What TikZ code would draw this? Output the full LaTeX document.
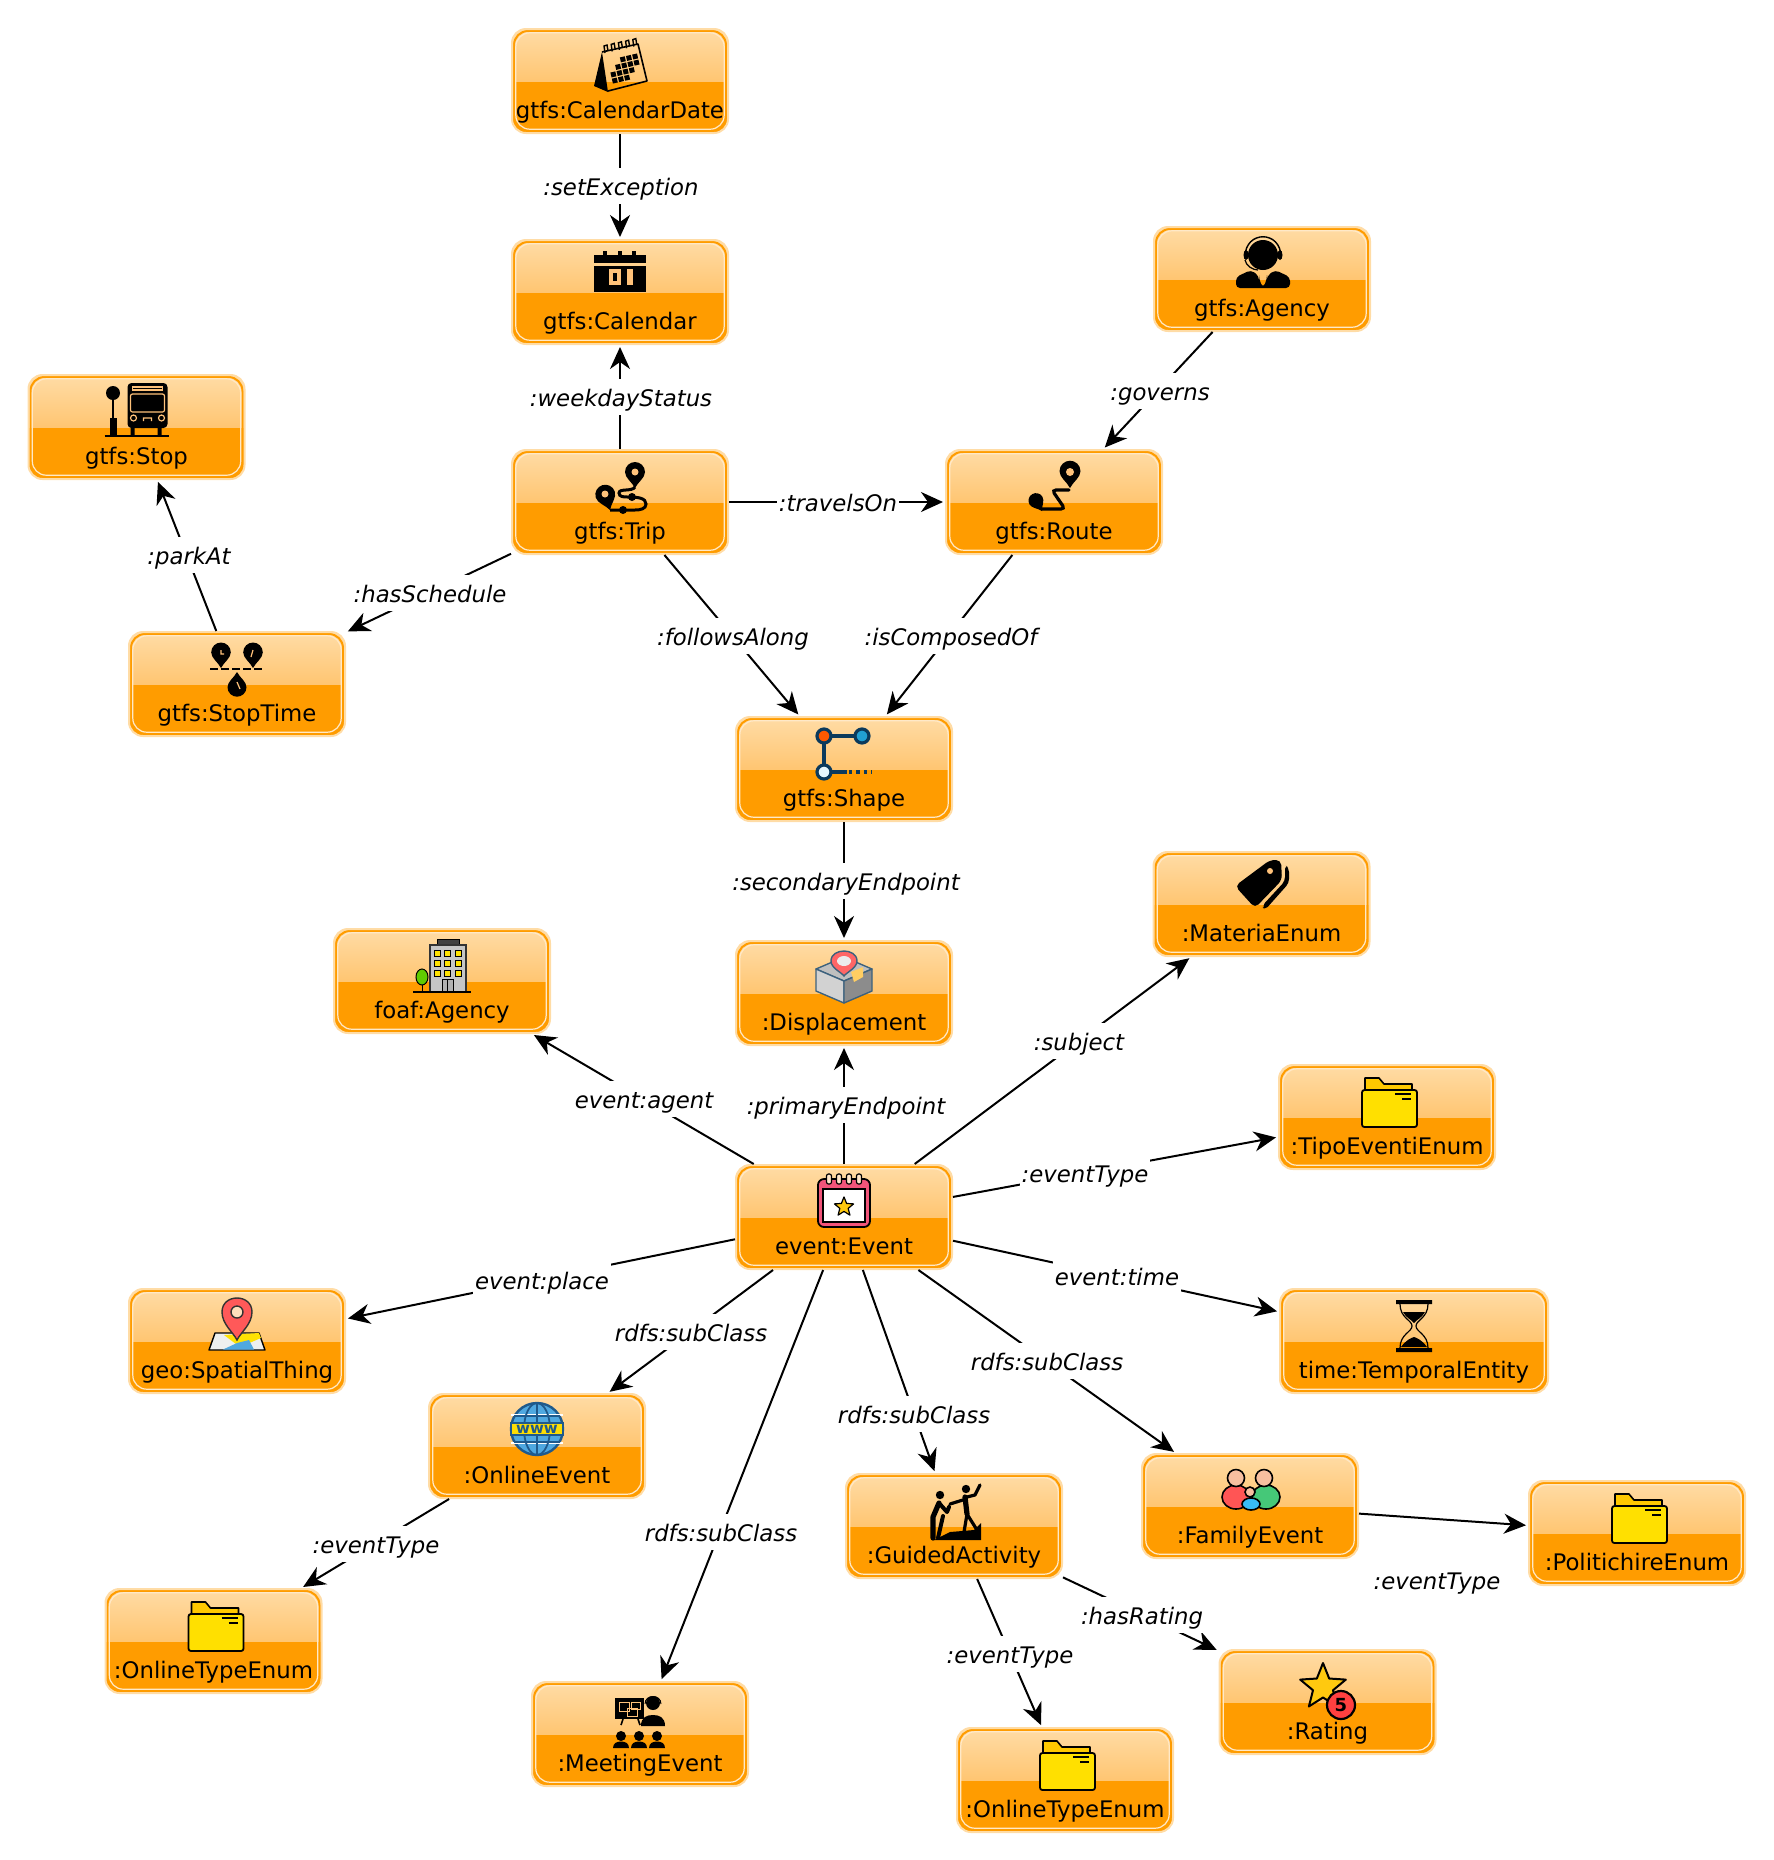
\documentclass[tikz,border=0pt]{standalone}
\usepackage{fontspec}
\setmainfont{DejaVu Sans}
\usetikzlibrary{arrows.meta}

\definecolor{boxorange}{HTML}{FF9C00}
\definecolor{boxlight}{HTML}{FFDCA6}
\definecolor{boxglow}{HTML}{FFAF3E}
\definecolor{boxcream}{HTML}{FFE9C8}
\definecolor{iconhole}{HTML}{FFC27A}
\definecolor{navyline}{HTML}{0B3A5C}
\definecolor{folderfront}{HTML}{FFE000}
\definecolor{folderback}{HTML}{FFC800}
\definecolor{eventpink}{HTML}{F2557A}
\definecolor{starfill}{HTML}{FFC90F}
\definecolor{globeblue}{HTML}{4FA8E0}
\definecolor{globeline}{HTML}{1F5A8C}
\definecolor{familyred}{HTML}{FF5555}
\definecolor{familygreen}{HTML}{45C878}
\definecolor{familyblue}{HTML}{38BDF8}
\definecolor{familyskin}{HTML}{F7BFA0}

\tikzset{
    classbox/.style={rectangle, draw=boxlight, line width=1pt, fill=boxorange, rounded corners=7pt,
        minimum width=108pt, inner xsep=0pt, inner ysep=0pt, text height=44.5pt, text depth=7.5pt,
        font=\fontsize{11.4}{13}\selectfont,
        path picture={
            \fill[top color=boxlight, bottom color=boxglow, sharp corners] (path picture bounding box.north west) rectangle (path picture bounding box.east);
            \draw[boxorange, line width=1pt] ([shift={(1pt,1pt)}]path picture bounding box.south west) rectangle ([shift={(-1pt,-1pt)}]path picture bounding box.north east);
            \draw[boxcream, line width=.6pt] ([shift={(1.9pt,1.9pt)}]path picture bounding box.south west) rectangle ([shift={(-1.9pt,-1.9pt)}]path picture bounding box.north east);
        }},
    edgelabel/.style={fill=white, inner xsep=1pt, inner ysep=2.5pt, text height=11pt, text depth=2pt, font=\fontsize{11.4}{13}\selectfont\itshape},
    link/.style={draw, line width=1pt, -{Stealth[length=11pt,width=10pt,inset=3.5pt]}, shorten >=1pt},
    % Shapes used by several icons
    pinShape/.pic={
        \fill (0,0) .. controls (-3,-6) and (-10,-10) .. (-10,-16) .. controls (-10,-22) and (-5,-26) .. (0,-26)
            .. controls (5,-26) and (10,-22) .. (10,-16) .. controls (10,-10) and (3,-6) .. (0,0) -- cycle;
    },
    starShape/.pic={
        \draw[fill=starfill, line join=round] (0,-24)
            \foreach \k in {1,...,9} {
                -- ({ifthenelse(mod(\k,2)==0,24,10.5)*sin(36*\k)},{-ifthenelse(mod(\k,2)==0,24,10.5)*cos(36*\k)})
            } -- cycle;
    },
    folderIcon/.pic={
        \draw[fill=folderback, line width=.8pt, line join=round] (-24,-12) -- (-24,-24) -- (-10,-24) -- (-5,-18) -- (23,-18) -- (23,-10) -- cycle;
        \draw[fill=folderfront, line width=.9pt, rounded corners=1.2pt] (-27,-12) rectangle (28,25);
        \draw[line width=.8pt] (6,-8) -- (22,-8) (13,-3) -- (22,-3);
    },
    % Icons, one for each class
    calendarDateIcon/.pic={
        \fill (-18,-14) -- (-26,20) -- (-12,26) -- cycle;
        \draw[line width=.8pt, line join=round] (-18,-14) -- (18,-22) -- (27,15) -- (-12,25);
        \foreach \c in {0,...,4} {
            \draw[line width=.7pt] ({-15+7.2*\c},{-13-1.6*\c}) -- ({-16+7.2*\c},{-20-1.6*\c}) -- ({-13+7.2*\c},{-21-1.6*\c}) -- ({-12+7.2*\c},{-15-1.6*\c});
        }
        \begin{scope}[shift={(3,2)}, rotate=13]
            \foreach \c/\r in {1/0,2/0,3/0,0/1,1/1,2/1,3/1,-1/2,0/2,1/2,2/2,-1/3,0/3,1/3} {
                \fill ({-7+6.3*\c},{-11+6.3*\r}) rectangle +(5,5);
            }
        \end{scope}
    },
    calendarIcon/.pic={
        \fill (-26,-17) rectangle (26,-9);
        \foreach \c in {-15,0,14} {
            \fill (\c-2,-21) rectangle (\c+2,-16);
        }
        \fill (-26,-6) rectangle (26,20);
        \fill[iconhole] (-11,-3) rectangle (1,13);
        \fill (-7,1) rectangle (-3,9);
        \fill[iconhole] (7,-3) rectangle (13,13);
    },
    agencyIcon/.pic={
        \fill (0,-8) ellipse (15 and 15);
        \fill (-17,-8) ellipse (2.5 and 5) (17,-8) ellipse (2.5 and 5);
        \draw[line width=.7pt] (-18,-6) .. controls (-18,-33) and (18,-33) .. (18,-6);
        \draw[line width=.6pt] (-18,-3) .. controls (-17,3) and (-10,7) .. (-5,7);
        \fill[rounded corners=2pt] (-27,25) -- (-27,14) -- (-12,7) -- (-4,13) -- (-4,16) -- (0,25) -- (4,16) -- (4,13) -- (12,7) -- (27,14) -- (27,25) -- cycle;
    },
    stopIcon/.pic={
        \fill (-23.5,-17) circle (7);
        \draw[line width=1pt] (-23.5,-12) -- (-23.5,20);
        \fill (-27,8) rectangle (-20,26);
        \draw[line width=1pt] (-32,26) -- (32,26);
        \fill[rounded corners=2pt] (-9,-27) rectangle (31,18);
        \fill (-6,16) rectangle (-2,26) (21,16) rectangle (25,26);
        \draw[iconhole, line width=.6pt] (-4,-23) rectangle (26,-20);
        \draw[iconhole, line width=.6pt, rounded corners=1pt] (-6,-16) rectangle (28,2);
        \draw[iconhole, line width=.6pt] (-3,8) circle (3) (25,8) circle (3) (7,11) -- (7,8) -- (15,8) -- (15,11);
    },
    tripIcon/.pic={
        \pic at (15,0) {pinShape};
        \pic[rotate=17] at (-10,22) {pinShape};
        \fill[iconhole] (15,-16) circle (3.5) (-15,6) circle (3.5);
        \draw[line width=1.5pt] (15,-1) .. controls (12,4) and (-1,0) .. (-1,5) .. controls (-1,9) and (4,9) .. (8,9)
            .. controls (18,9) and (26,10) .. (26,16) .. controls (26,21) and (20,22) .. (15,22) -- (-10,22);
        \fill (12,9) circle (4) (3,22) circle (4);
    },
    routeIcon/.pic={
        \pic[scale=1.05] at (15,1) {pinShape};
        \pic[scale=.75, rotate=30] at (-13,24) {pinShape};
        \fill[iconhole] (15,-15) circle (4);
        \draw[line width=1.6pt, rounded corners=2pt, line cap=round] (14,3) -- (-3,3) -- (10,22) -- (-13,22);
    },
    stopTimeIcon/.pic={
        \pic[scale=.98] at (-16,-1) {pinShape};
        \pic[scale=.98] at (16,-1) {pinShape};
        \pic[scale=.95, rotate=180] at (0,3) {pinShape};
        \draw[line width=1.1pt, dash pattern=on 4pt off 1.5pt] (-27,0) -- (27,0);
        \draw[iconhole, line width=.6pt] (-16,-19) -- (-16,-15) -- (-13,-15) (16,-19) -- (14,-12) (0,13) -- (3,20);
    },
    shapeIcon/.pic={
        \draw[navyline, line width=2pt] (-19,-18) -- (19,-18) (-19,-18) -- (-19,18) -- (4,18);
        \draw[navyline, line width=2pt, dash pattern=on 1.7pt off 2pt] (6,18) -- (29,18);
        \draw[navyline, line width=1.6pt, fill=orange!70!red] (-19,-18) circle (7);
        \draw[navyline, line width=1.6pt, fill=cyan!70!teal] (19,-18) circle (7);
        \draw[navyline, line width=1.6pt, fill=cyan!10] (-19,18) circle (7);
    },
    displacementIcon/.pic={
        \draw[navyline!80, line width=.7pt, fill=gray!50, line join=round] (-28,-8) -- (0,-20) -- (28,-8) -- (0,4) -- cycle;
        \draw[navyline!80, line width=.7pt, fill=gray!35, line join=round] (-28,-8) -- (0,4) -- (0,26) -- (-28,14) -- cycle;
        \draw[navyline!80, line width=.7pt, fill=gray!90, line join=round] (28,-8) -- (0,4) -- (0,26) -- (28,14) -- cycle;
        \fill[iconhole!80!yellow] (7,-5) -- (19,-10) -- (19,0) -- (10,5) -- cycle;
        \draw[navyline!80, line width=.7pt, fill=red!60!white] (0,-1) .. controls (-3,-5) and (-13,-9) .. (-13,-16) .. controls (-13,-23) and (-6,-26) .. (0,-26)
            .. controls (6,-26) and (13,-23) .. (13,-16) .. controls (13,-9) and (3,-5) .. (0,-1) -- cycle;
        \fill[gray!15] (0,-16) ellipse (7 and 5);
    },
    foafIcon/.pic={
        \draw[fill=black!75, line width=.5pt] (-5,-27) rectangle (17,-21);
        \draw[black!80, fill=gray!45, line width=.7pt] (-12,-21) rectangle (24,26);
        \foreach \wx in {-5,5,16} {
            \foreach \wy in {-13,-3,7} {
                \draw[fill=yellow!85!orange, line width=.4pt] (\wx-3,\wy-3) rectangle (\wx+3,\wy+3);
            }
        }
        \draw[fill=gray!60, line width=.5pt] (0,13) rectangle (11,26) (5.5,13) -- (5.5,26);
        \draw[line width=.5pt] (-20,26) -- (-20,12);
        \draw[fill=green!60!black!50!lime, line width=.5pt] (-20,11) ellipse (6 and 8);
        \draw[line width=.6pt] (-29,26) -- (29,26);
    },
    materiaIcon/.pic={
        \fill[rounded corners=2pt] (23,-20) -- (27,-17) -- (27,-2) -- (3,25) -- (0,21) -- (23,-4) -- cycle;
        \fill[rounded corners=2.5pt] (8,-25) -- (19,-25) -- (20,-5) -- (-7,23) -- (-27,1) -- cycle;
        \fill[iconhole] (8,-14) circle (3);
    },
    eventIcon/.pic={
        \draw[fill=eventpink, line width=.9pt, rounded corners=3pt] (-26,-22) rectangle (26,26);
        \draw[fill=white, line width=.7pt] (-21,-12) rectangle (21,21);
        \foreach \c in {-15,-5,5,15} {
            \draw[fill=iconhole!40, line width=.6pt, rounded corners=1pt] (\c-2.5,-27) rectangle (\c+2.5,-17);
        }
        \pic[scale=.42, line width=.6pt] at (0,6) {starShape};
    },
    geoIcon/.pic={
        \draw[fill=cyan!8!gray!15, line width=.7pt, line join=round] (-22,9) -- (22,9) -- (28,26) -- (-28,26) -- cycle;
        \fill[yellow!85!orange] (-13,11) -- (22,9) -- (24,14) -- (3,23) -- cycle;
        \fill[globeblue] (-14,25.5) -- (0,19) -- (12,16) -- (17,25.5) -- cycle;
        \draw[black!80, fill=red!65!white, line width=.7pt] (0,16) .. controls (-4,8) and (-15,0) .. (-15,-12) .. controls (-15,-21) and (-8,-26) .. (0,-26)
            .. controls (8,-26) and (15,-21) .. (15,-12) .. controls (15,0) and (4,8) .. (0,16) -- cycle;
        \draw[black!80, fill=iconhole!50, line width=.7pt] (0,-12) circle (6);
    },
    timeIcon/.pic={
        \fill (-18,-26) rectangle (18,-22) (-18,22) rectangle (18,26);
        \draw[line width=.6pt] (-14,-22) .. controls (-14,-8) and (-2,-6) .. (-2,0) .. controls (-2,6) and (-14,8) .. (-14,22);
        \draw[line width=.6pt] (14,-22) .. controls (14,-8) and (2,-6) .. (2,0) .. controls (2,6) and (14,8) .. (14,22);
        \fill (-11,-14) -- (11,-14) .. controls (8,-8) and (2,-6) .. (0,-3) .. controls (-2,-6) and (-8,-8) .. (-11,-14) -- cycle;
        \fill (-13,21) .. controls (-8,14) and (-3,12) .. (0,11) .. controls (3,12) and (8,14) .. (13,21) -- cycle;
    },
    onlineIcon/.pic={
        \draw[fill=globeblue, draw=globeline, line width=1.2pt] (0,0) circle (26);
        \draw[white, line width=.7pt] (0,-26) -- (0,26) (-26,-14) -- (26,-14) (-26,14) -- (26,14);
        \draw[globeline, line width=.9pt] (0,0) ellipse (13 and 26) (-23,-13) -- (23,-13) (-23,13) -- (23,13) (0,-26) -- (0,26);
        \draw[fill=yellow!80!orange, draw=globeline, line width=.6pt] (-26,-6) rectangle (26,6);
        \node[text=globeline, inner sep=0pt, font=\fontsize{7.5}{8}\selectfont\bfseries] (wwwText) at (0,0) {www};
    },
    meetingIcon/.pic={
        \fill (-24,-23) rectangle (5,-2);
        \draw[iconhole, line width=.5pt] (-20,-19) rectangle (-10,-10) (-12,-13) rectangle (-2,-5) (-8,-19) rectangle (1,-12);
        \draw[line width=.8pt] (-16,-2) -- (-18,4) (-1,-2) -- (1,4);
        \fill (14,-18) circle (7);
        \draw[line width=.5pt] (6,-17) .. controls (6,-27) and (22,-27) .. (22,-17);
        \fill (2,5) .. controls (2,-4) and (8,-6) .. (14,-6) .. controls (20,-6) and (26,-4) .. (26,5) -- cycle;
        \foreach \p in {-18,0,18} {
            \fill (\p,15) circle (5);
            \fill (\p-8,27) .. controls (\p-8,22) and (\p-4,20.5) .. (\p,20.5) .. controls (\p+4,20.5) and (\p+8,22) .. (\p+8,27) -- cycle;
        }
    },
    guidedIcon/.pic={
        \fill (-15,-17) circle (4.2) (11,-23) circle (4.2);
        \draw[line width=2.6pt, line cap=round, line join=round] (-16,-9) -- (-22,5) -- (-22,26);
        \draw[line width=2pt, line cap=round, line join=round] (-16,-9) -- (-8,0) -- (-6,-5) (-12,4) -- (-17,26);
        \draw[line width=2.6pt, line cap=round, line join=round] (10,-15) -- (12,2);
        \draw[line width=1.6pt, line cap=round, line join=round] (12,2) -- (9,20) (12,2) -- (22,18) (11,-13) -- (-5,-8) (12,-15) -- (20,-17) -- (25,-27);
        \fill (-21,28) -- (-5,20) -- (19,18) -- (26,11) -- (26,28) -- cycle;
    },
    familyIcon/.pic={
        \draw[fill=familyred, line width=.8pt] (-15,8) ellipse (14 and 12);
        \draw[fill=familygreen, line width=.8pt] (15,8) ellipse (14 and 12);
        \draw[fill=familyskin, line width=.8pt] (-15,-11) circle (8.5) (13,-11) circle (8.5);
        \draw[fill=familyblue, line width=.8pt] (0,15) ellipse (9 and 6);
        \draw[fill=familyskin, line width=.8pt] (-1,3) circle (5);
    },
    ratingIcon/.pic={
        \pic[line width=1pt] at (0,0) {starShape};
        \draw[fill=red!75!white, line width=1.1pt] (18,18) circle (14);
        \node[inner sep=0pt, font=\fontsize{9}{10}\selectfont\bfseries] (ratingFive) at (18,18) {5};
    },
}

\begin{document}
\begin{tikzpicture}[x=0.5pt,y=-0.5pt]
    \useasboundingbox (0,0) rectangle (1774,1860);
    % Draw the classes
    \node[classbox] (calendarDate) at (620,81) {gtfs:CalendarDate};
    \node[classbox] (calendar) at (620,292) {gtfs:Calendar};
    \node[classbox] (gtfsAgency) at (1262,279) {gtfs:Agency};
    \node[classbox] (stop) at (136.5,427) {gtfs:Stop};
    \node[classbox] (trip) at (620,502) {gtfs:Trip};
    \node[classbox] (route) at (1054,502) {gtfs:Route};
    \node[classbox] (stopTime) at (237,684) {gtfs:StopTime};
    \node[classbox] (shape) at (844,769) {gtfs:Shape};
    \node[classbox] (displacement) at (844,993) {:Displacement};
    \node[classbox] (materia) at (1261.5,904) {:MateriaEnum};
    \node[classbox] (foafAgency) at (442,981) {foaf:Agency};
    \node[classbox] (tipoEventi) at (1387,1117) {:TipoEventiEnum};
    \node[classbox] (event) at (844,1217) {event:Event};
    \node[classbox] (spatialThing) at (237,1341) {geo:SpatialThing};
    \node[classbox, minimum width=134pt] (temporalEntity) at (1414,1341) {time:TemporalEntity};
    \node[classbox] (onlineEvent) at (537,1446) {:OnlineEvent};
    \node[classbox] (familyEvent) at (1250,1506) {:FamilyEvent};
    \node[classbox] (guidedActivity) at (954,1526) {:GuidedActivity};
    \node[classbox] (politichire) at (1637,1533) {:PolitichireEnum};
    \node[classbox] (onlineTypeLeft) at (213.5,1641) {:OnlineTypeEnum};
    \node[classbox] (rating) at (1327.5,1702) {:Rating};
    \node[classbox] (meetingEvent) at (640,1734) {:MeetingEvent};
    \node[classbox] (onlineTypeRight) at (1065,1780) {:OnlineTypeEnum};
    % Draw the icons
    \pic at (620,66) {calendarDateIcon};
    \pic at (620,272) {calendarIcon};
    \pic at (1263,263) {agencyIcon};
    \pic at (136.5,410) {stopIcon};
    \pic at (620,488) {tripIcon};
    \pic at (1055,487) {routeIcon};
    \pic at (237,669) {stopTimeIcon};
    \pic at (843,754) {shapeIcon};
    \pic at (844,977) {displacementIcon};
    \pic at (1262,885) {materiaIcon};
    \pic at (442,966) {foafIcon};
    \pic at (1389,1102) {folderIcon};
    \pic at (844,1201) {eventIcon};
    \pic at (237,1324) {geoIcon};
    \pic at (1414,1326) {timeIcon};
    \pic at (537,1429) {onlineIcon};
    \pic at (1251,1489) {familyIcon};
    \pic at (955,1512) {guidedIcon};
    \pic at (1639,1518) {folderIcon};
    \pic at (215.5,1626) {folderIcon};
    \pic at (1323,1687) {ratingIcon};
    \pic at (639,1721) {meetingIcon};
    \pic at (1067,1765) {folderIcon};
    % Draw the properties
    \foreach \from/\to in {calendarDate/calendar, trip/calendar, gtfsAgency/route, stopTime/stop,
            trip/stopTime, trip/route, trip/shape, route/shape, shape/displacement,
            event/displacement, event/materia, event/foafAgency, event/tipoEventi,
            event/spatialThing, event/temporalEntity, event/onlineEvent, event/familyEvent,
            event/guidedActivity, event/meetingEvent, onlineEvent/onlineTypeLeft,
            guidedActivity/onlineTypeRight, guidedActivity/rating, familyEvent/politichire} {
        \draw[link] (\from) -- (\to);
    }
    % Draw the property labels
    \node[edgelabel] (setExceptionLabel) at (621,186) {:setException};
    \node[edgelabel] (weekdayStatusLabel) at (621,397) {:weekdayStatus};
    \node[edgelabel] (governsLabel) at (1160,391) {:governs};
    \node[edgelabel] (parkAtLabel) at (189,555) {:parkAt};
    \node[edgelabel] (hasScheduleLabel) at (430,593) {:hasSchedule};
    \node[edgelabel] (travelsOnLabel) at (838,502) {:travelsOn};
    \node[edgelabel] (followsAlongLabel) at (733,636) {:followsAlong};
    \node[edgelabel] (isComposedOfLabel) at (951,636) {:isComposedOf};
    \node[edgelabel] (secondaryLabel) at (846,881) {:secondaryEndpoint};
    \node[edgelabel] (subjectLabel) at (1079,1041) {:subject};
    \node[edgelabel] (agentLabel) at (644,1099) {event:agent};
    \node[edgelabel] (primaryLabel) at (846,1105) {:primaryEndpoint};
    \node[edgelabel] (eventTypeTipoLabel) at (1085,1173) {:eventType};
    \node[edgelabel] (placeLabel) at (542,1280) {event:place};
    \node[edgelabel] (timeLabel) at (1117,1276) {event:time};
    \node[edgelabel] (subClassOnlineLabel) at (691,1332) {rdfs:subClass};
    \node[edgelabel] (subClassFamilyLabel) at (1047,1361) {rdfs:subClass};
    \node[edgelabel] (subClassGuidedLabel) at (914,1414) {rdfs:subClass};
    \node[edgelabel] (subClassMeetingLabel) at (721,1532) {rdfs:subClass};
    \node[edgelabel] (eventTypeOnlineLabel) at (376,1544) {:eventType};
    \node[edgelabel] (eventTypeGuidedLabel) at (1010,1654) {:eventType};
    \node[edgelabel] (hasRatingLabel) at (1142,1615) {:hasRating};
    \node[edgelabel] (eventTypeFamilyLabel) at (1437,1580) {:eventType};
\end{tikzpicture}
\end{document}
